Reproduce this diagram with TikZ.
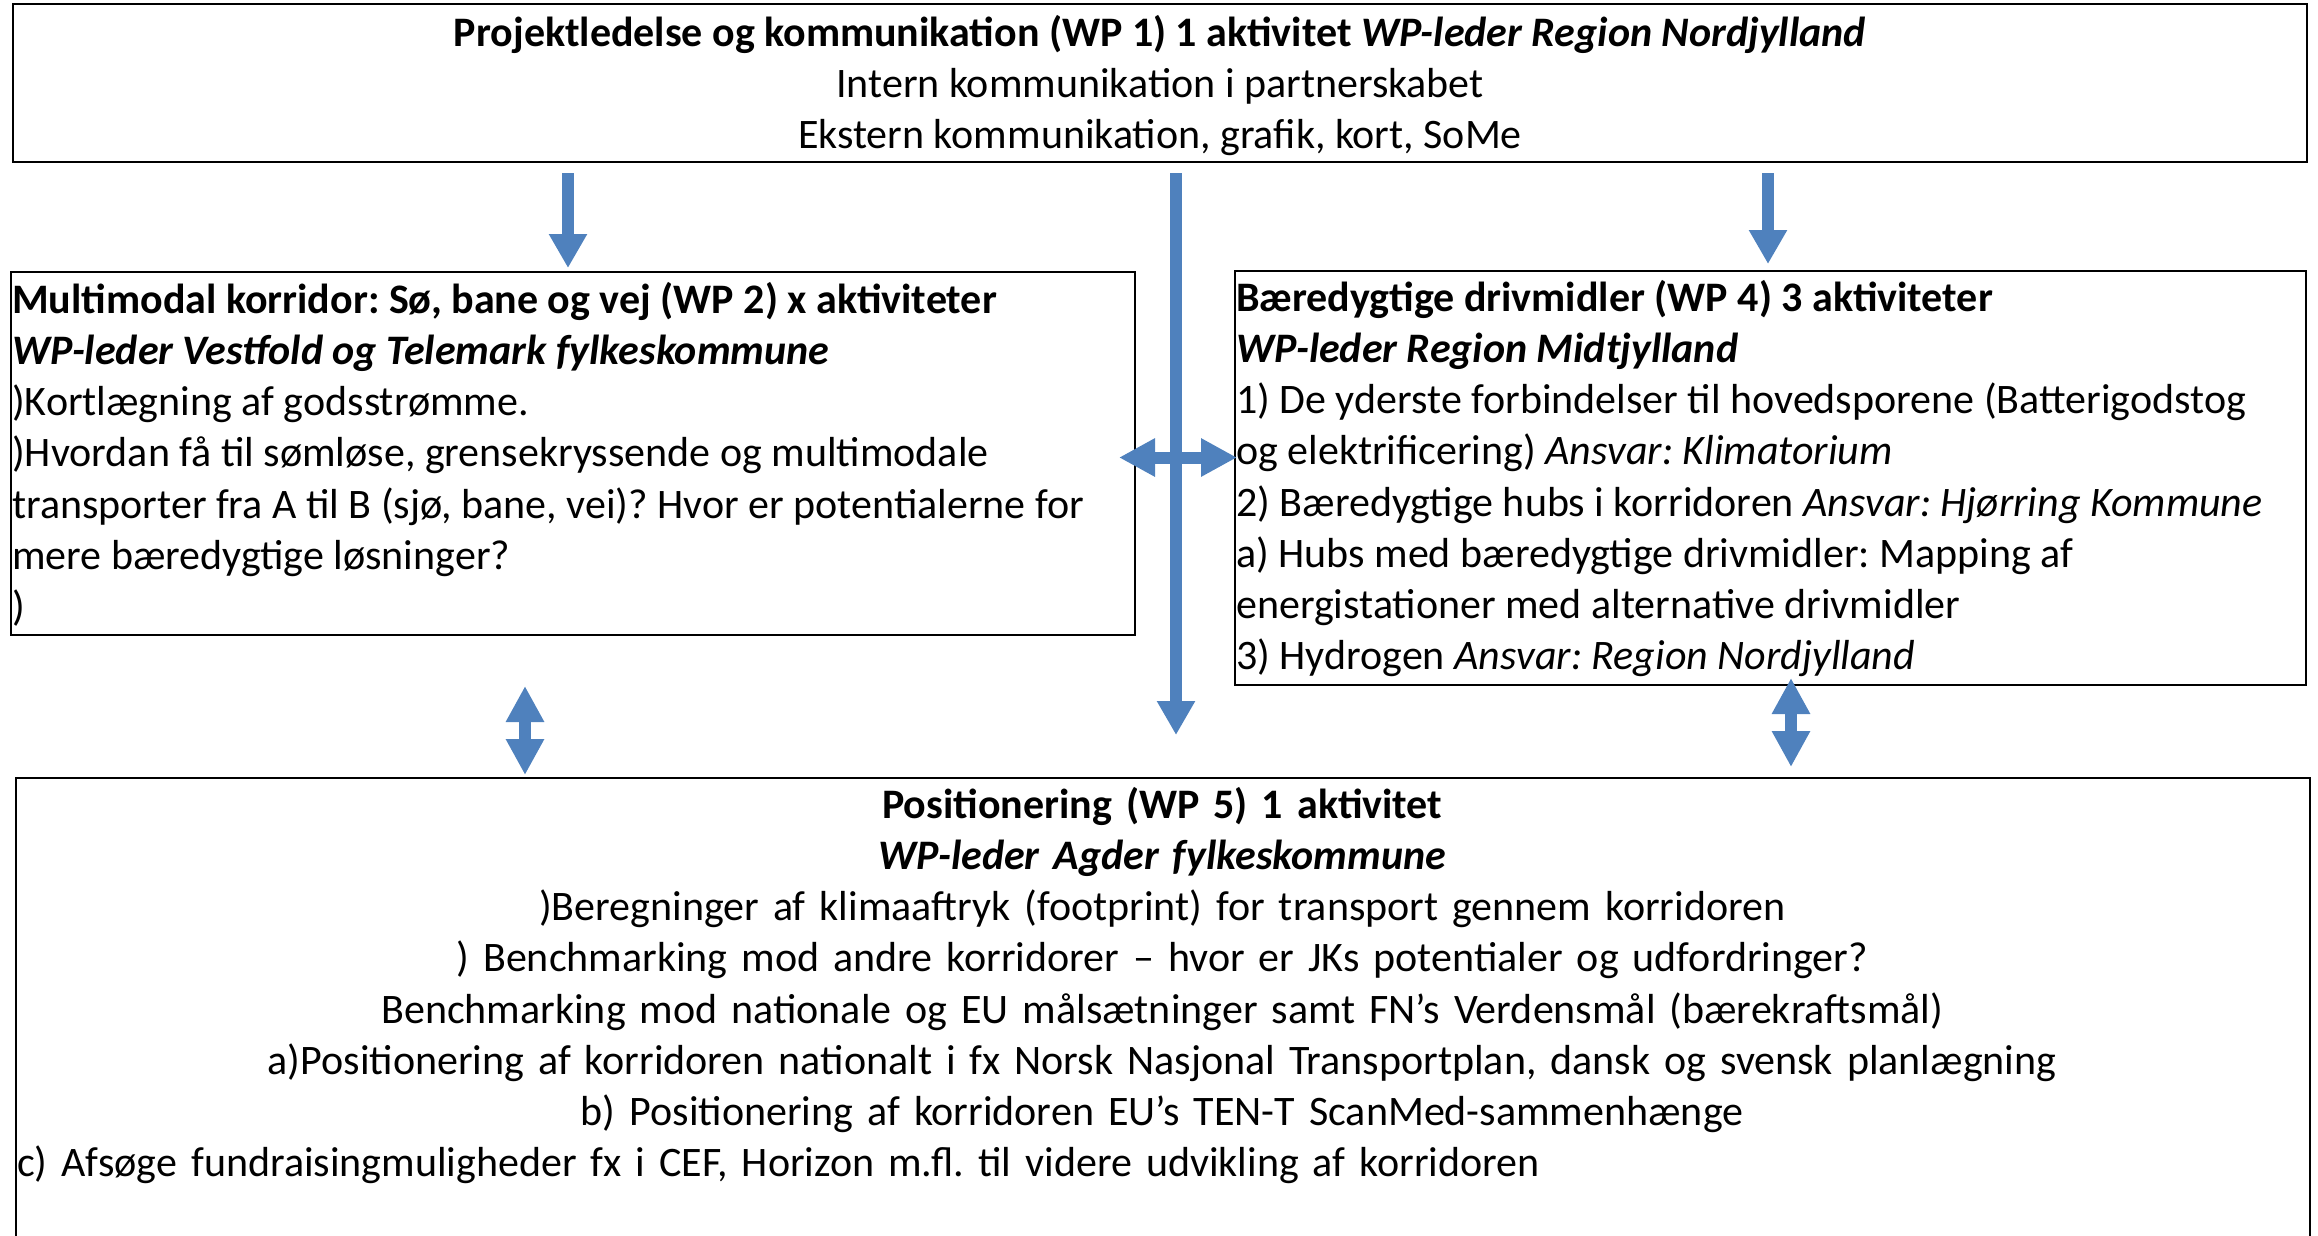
\documentclass[tikz,border=0pt]{standalone}
\usepackage{fontspec}
\setmainfont{Carlito}
\usetikzlibrary{arrows.meta,calc}
\definecolor{wpblue}{RGB}{79,129,189}
\frenchspacing

\begin{document}
\begin{tikzpicture}[x=1pt,y=-1pt,
  wpbox/.style={draw=black, line width=2pt, inner sep=0pt, anchor=north west},
  wptext/.style={inner sep=0pt, font=\fontsize{42}{51.2}\selectfont},
  flow/.style={draw=wpblue, line width=12pt, -{Triangle[length=34pt,width=36pt]}},
  twoway/.style={draw=wpblue, line width=12pt, {Triangle[length=36pt,width=36pt]}-{Triangle[length=36pt,width=36pt]}}]
\useasboundingbox (0,0) rectangle (2318,1235);

% the work package boxes
\node[wpbox, minimum width=2294pt, minimum height=158pt] (wp1) at (12,3) {};
\node[wpbox, minimum width=1124pt, minimum height=363pt] (wp2) at (10,271) {};
\node[wpbox, minimum width=1071pt, minimum height=414pt] (wp4) at (1234,270) {};
\node[wpbox, minimum width=2294pt, minimum height=470pt] (wp5) at (15,777) {};

% texts
\node[wptext, align=center, anchor=north] (wp1txt) at ([yshift=-12pt]wp1.north)
  {\textbf{Projektledelse og kommunikation (WP 1) 1 aktivitet \textit{WP-leder Region Nordjylland}}\\
   Intern kommunikation i partnerskabet\\
   Ekstern kommunikation, grafik, kort, SoMe};

\node[wptext, align=left, anchor=north west] (wp2txt) at ([xshift=2pt,yshift=-11pt]wp2.north west)
  {\textbf{Multimodal korridor: Sø, bane og vej (WP 2) x aktiviteter}\\
   \textbf{\textit{WP-leder Vestfold og Telemark fylkeskommune}}\\
   )Kortlægning af godsstrømme.\\
   )Hvordan få til sømløse, grensekryssende og multimodale\\
   transporter fra A til B (sjø, bane, vei)? Hvor er potentialerne for\\
   mere bæredygtige løsninger?\\
   )};

\node[wptext, align=left, anchor=north west] (wp4txt) at ([xshift=2pt,yshift=-10pt]wp4.north west)
  {\textbf{Bæredygtige drivmidler (WP 4) 3 aktiviteter}\\
   \textbf{\textit{WP-leder Region Midtjylland}}\\
   1) De yderste forbindelser til hovedsporene (Batterigodstog\\
   og elektrificering) \textit{Ansvar: Klimatorium}\\
   2) Bæredygtige hubs i korridoren \textit{Ansvar: Hjørring Kommune}\\
   a) Hubs med bæredygtige drivmidler: Mapping af\\
   energistationer med alternative drivmidler\\
   3) Hydrogen \textit{Ansvar: Region Nordjylland}};

\node[wptext, align=center, text width=2290pt, anchor=north west] (wp5txt) at ([xshift=2pt,yshift=-10pt]wp5.north west)
  {\textbf{Positionering (WP 5) 1 aktivitet}\\
   \textbf{\textit{WP-leder Agder fylkeskommune}}\\
   )Beregninger af klimaaftryk (footprint) for transport gennem korridoren\\
   ) Benchmarking mod andre korridorer – hvor er JKs potentialer og udfordringer?\\
   Benchmarking mod nationale og EU målsætninger samt FN’s Verdensmål (bærekraftsmål)\\
   a)Positionering af korridoren nationalt i fx Norsk Nasjonal Transportplan, dansk og svensk planlægning\\
   b) Positionering af korridoren EU’s TEN-T ScanMed-sammenhænge\\
   \makebox[\linewidth][l]{c) Afsøge fundraisingmuligheder fx i CEF, Horizon m.fl. til videre udvikling af korridoren}};

% arrows
\draw[flow] ([xshift=556pt,yshift=-10pt]wp1.south west) -- ([xshift=558pt,yshift=3pt]wp2.north west);
\draw[flow] ([xshift=1756pt,yshift=-10pt]wp1.south west) -- ([xshift=534pt,yshift=6pt]wp4.north west);
\draw[flow] ([xshift=1164pt,yshift=-10pt]wp1.south west) -- ([xshift=1161pt,yshift=42pt]wp5.north west);
\draw[twoway] ($(wp2.east)+(-17,4)$) -- ($(wp2.east -| wp4.west)+(3,4)$);
\draw[twoway] ([xshift=515pt,yshift=-50pt]wp2.south west) -- ([xshift=510pt,yshift=2pt]wp5.north west);
\draw[twoway] ([xshift=557pt,yshift=8pt]wp4.south west) -- ([xshift=1776pt,yshift=10pt]wp5.north west);
\end{tikzpicture}
\end{document}
